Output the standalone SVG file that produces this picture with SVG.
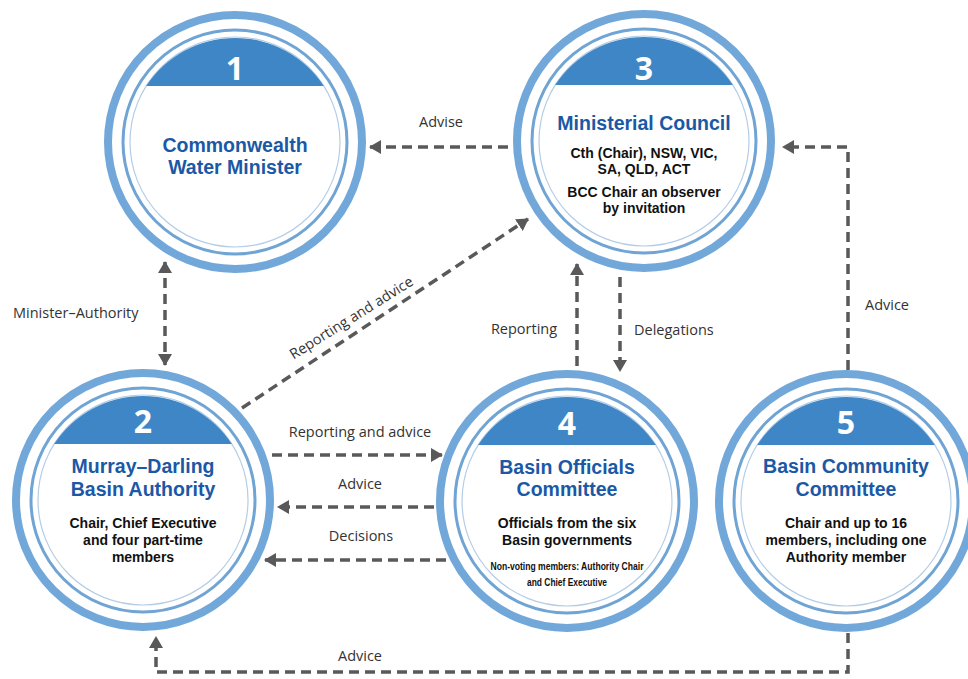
<svg xmlns="http://www.w3.org/2000/svg" xmlns:xlink="http://www.w3.org/1999/xlink" width="968" height="679" viewBox="0 0 968 679">
  <style>
    .ring-outer { fill: none; stroke: #72a8d9; stroke-width: 8; }
    .ring-mid { fill: none; stroke: #6fa4d4; stroke-width: 3; }
    .ring-inner { fill: none; stroke: #b3cde6; stroke-width: 1.2; }
    .cap { fill: #3f86c7; }
    .num { font-family: "Open Sans", "Noto Sans", sans-serif; font-weight: 700; font-size: 32px; fill: #ffffff; text-anchor: middle; }
    .title { font-family: "Liberation Sans", Arial, sans-serif; font-weight: 700; font-size: 19.5px; fill: #1b58a5; text-anchor: middle; }
    .sub { font-family: "Liberation Sans", Arial, sans-serif; font-weight: 700; font-size: 14px; fill: #111111; text-anchor: middle; }
    .small { font-family: "Liberation Sans Narrow", "Liberation Sans", sans-serif; font-weight: 700; font-size: 11px; fill: #111111; text-anchor: middle; }
    .lbl { font-family: "Open Sans", "Noto Sans", sans-serif; font-size: 14.5px; fill: #333333; }
    .mid { text-anchor: middle; }
    .link { fill: none; stroke: #595959; stroke-width: 3.5; stroke-dasharray: 10 6; }
  </style>
  <defs>
    <marker id="head" viewBox="0 0 12 14" refX="11" refY="7" markerWidth="12" markerHeight="14" markerUnits="userSpaceOnUse" orient="auto-start-reverse">
      <path d="M0,0 L12,7 L0,14 Z" fill="#595959"/>
    </marker>
    <!-- shared badge: outer rings and the numbered cap -->
    <g id="badge">
      <circle class="ring-outer" r="127"/>
      <circle class="ring-mid" r="112"/>
      <circle class="ring-inner" r="105"/>
      <path class="cap" d="M-88.8,-56 A106,106 0 0 1 88.8,-56 Z"/>
    </g>
  </defs>

  <rect width="968" height="679" fill="#ffffff"/>

  <!-- connectors -->
  <g id="connectors">
    <path class="link" d="M508,147 H370" marker-end="url(#head)"/>
    <path class="link" d="M165,262 V365" marker-start="url(#head)" marker-end="url(#head)"/>
    <path class="link" d="M242,408 L528,219" marker-end="url(#head)"/>
    <path class="link" d="M272,455 H442" marker-end="url(#head)"/>
    <path class="link" d="M434,507 H278" marker-end="url(#head)"/>
    <path class="link" d="M446,560 H265" marker-end="url(#head)"/>
    <path class="link" d="M577,366 V264" marker-end="url(#head)"/>
    <path class="link" d="M620,277 V371" marker-end="url(#head)"/>
    <path class="link" d="M848,370 V147 H783" marker-end="url(#head)"/>
    <path class="link" d="M848,633 V672 H156 V637" marker-end="url(#head)"/>

    <text class="lbl mid" x="441" y="127">Advise</text>
    <text class="lbl" x="13" y="318">Minister–Authority</text>
    <text class="lbl mid" transform="translate(354,322) rotate(-32)">Reporting and advice</text>
    <text class="lbl mid" x="360" y="437">Reporting and advice</text>
    <text class="lbl mid" x="360" y="489">Advice</text>
    <text class="lbl mid" x="361" y="541">Decisions</text>
    <text class="lbl mid" x="524" y="334">Reporting</text>
    <text class="lbl" x="634" y="335">Delegations</text>
    <text class="lbl mid" x="887" y="310">Advice</text>
    <text class="lbl mid" x="360" y="661">Advice</text>
  </g>

  <!-- 1 -->
  <g id="node1" transform="translate(235,142)">
    <use xlink:href="#badge"/>
    <text class="num" y="-62">1</text>
    <text class="title" y="10">Commonwealth</text>
    <text class="title" y="32">Water Minister</text>
  </g>

  <!-- 3 -->
  <g id="node3" transform="translate(644,141)">
    <use xlink:href="#badge"/>
    <text class="num" y="-61">3</text>
    <text class="title" y="-11">Ministerial Council</text>
    <text class="sub" y="17">Cth (Chair), NSW, VIC,</text>
    <text class="sub" y="33">SA, QLD, ACT</text>
    <text class="sub" y="56">BCC Chair an observer</text>
    <text class="sub" y="72">by invitation</text>
  </g>

  <!-- 2 -->
  <g id="node2" transform="translate(143,500)">
    <use xlink:href="#badge"/>
    <text class="num" y="-67">2</text>
    <text class="title" y="-27">Murray–Darling</text>
    <text class="title" y="-4">Basin Authority</text>
    <text class="sub" y="28">Chair, Chief Executive</text>
    <text class="sub" y="45">and four part-time</text>
    <text class="sub" y="62">members</text>
  </g>

  <!-- 4 -->
  <g id="node4" transform="translate(567,501)">
    <use xlink:href="#badge"/>
    <text class="num" y="-66">4</text>
    <text class="title" y="-27">Basin Officials</text>
    <text class="title" y="-5">Committee</text>
    <text class="sub" y="27">Officials from the six</text>
    <text class="sub" y="44">Basin governments</text>
    <text class="small" y="69" textLength="153" lengthAdjust="spacingAndGlyphs">Non-voting members: Authority Chair</text>
    <text class="small" y="85" textLength="80" lengthAdjust="spacingAndGlyphs">and Chief Executive</text>
  </g>

  <!-- 5 -->
  <g id="node5" transform="translate(846,501)">
    <use xlink:href="#badge"/>
    <text class="num" y="-67">5</text>
    <text class="title" y="-28">Basin Community</text>
    <text class="title" y="-5">Committee</text>
    <text class="sub" y="27">Chair and up to 16</text>
    <text class="sub" y="44">members, including one</text>
    <text class="sub" y="61">Authority member</text>
  </g>
</svg>
